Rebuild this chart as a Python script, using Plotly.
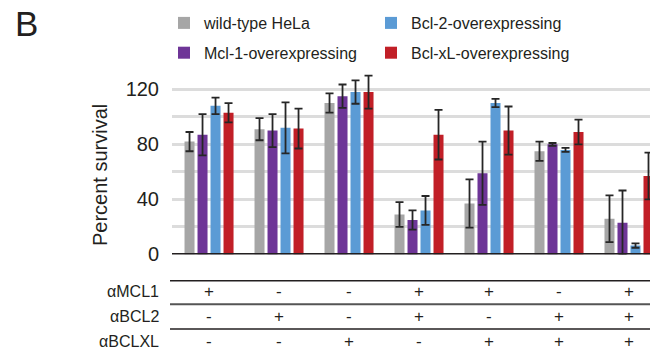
import plotly.graph_objects as go

W, H = 650, 353

conditions = ["MCL1", "BCL2", "BCLXL", "MCL1+BCL2", "MCL1+BCLXL", "BCL2+BCLXL", "ALL"]

series_names = ["wild-type HeLa", "Mcl-1-overexpressing", "Bcl-2-overexpressing", "Bcl-xL-overexpressing"]
series_colors = ["#a6a6a6", "#6e3597", "#5b9bd5", "#c11f27"]

wt = [82, 91, 110, 29, 37, 75, 26]
wt_err = [7, 8, 7, 9, 17.5, 7, 17]
mcl1 = [87, 90, 115, 25, 59, 80, 23]
mcl1_err = [15, 12, 8.5, 7, 23, 1, 23.5]
bcl2 = [108, 92, 118, 32, 110, 76, 6.5]
bcl2_err = [6, 18.5, 8.5, 10.5, 3, 1.5, 1.6]
bclxl = [103, 91.5, 118, 87, 90, 89, 57]
bclxl_err = [7, 14.5, 12, 18, 17.5, 9, 17]

table_labels = ["αMCL1", "αBCL2", "αBCLXL"]
row_mcl1 = ["+", "-", "-", "+", "+", "-", "+"]
row_bcl2 = ["-", "+", "-", "+", "-", "+", "+"]
row_bclxl = ["-", "-", "+", "-", "+", "+", "+"]

y_ticks = [0, 20, 40, 60, 80, 100, 120]
y_ticktext = ["0", "", "40", "", "80", "", "120"]

values = [wt, mcl1, bcl2, bclxl]
errors = [wt_err, mcl1_err, bcl2_err, bclxl_err]
legend_ids = ["legend", "legend", "legend2", "legend2"]

FONT = "Liberation Sans, Arial, sans-serif"
TXT = "#231f20"

def px_x(p):
    return p / W

def px_y(p):
    return 1 - p / H

fig = go.Figure()
for name, color, v, e, lg in zip(series_names, series_colors, values, errors, legend_ids):
    fig.add_trace(go.Bar(
        x=conditions, y=v, name=name, marker_color=color, marker_line_width=0,
        error_y=dict(type="data", array=e, visible=True, color="#262626", thickness=1.8, width=4),
        legend=lg, legendgroup=name,
    ))

axis_left = 172
axis_bottom = 254.5
px_per_unit = 1.3767
y_top_val = 135
plot_top = axis_bottom - y_top_val * px_per_unit

fig.update_layout(
    width=W, height=H,
    margin=dict(l=0, r=0, t=0, b=0, autoexpand=False),
    paper_bgcolor="white", plot_bgcolor="white",
    barmode="group", bargap=0.257, bargroupgap=0.23,
    font=dict(family=FONT, color=TXT),
    xaxis=dict(domain=[px_x(axis_left), 1], range=[-0.529, 6.3], showticklabels=False,
               showgrid=False, zeroline=False, showline=False, ticks="", automargin=False),
    yaxis=dict(domain=[px_y(axis_bottom), px_y(plot_top)], range=[0, y_top_val],
               tickvals=y_ticks, ticktext=y_ticktext, showgrid=True, gridcolor="#dcdcdc",
               gridwidth=3, zeroline=False, showline=False, ticks="outside", ticklen=8,
               tickcolor="rgba(0,0,0,0)", tickfont=dict(size=20, family=FONT, color=TXT),
               automargin=False),
    legend=dict(x=px_x(164), y=px_y(6), xanchor="left", yanchor="top", orientation="v",
                font=dict(size=16, family=FONT, color=TXT), tracegroupgap=6, bgcolor="rgba(0,0,0,0)"),
    legend2=dict(x=px_x(371), y=px_y(6), xanchor="left", yanchor="top", orientation="v",
                 font=dict(size=16, family=FONT, color=TXT), tracegroupgap=6, bgcolor="rgba(0,0,0,0)"),
)

# axis baseline
fig.add_shape(type="line", xref="paper", yref="y", x0=px_x(axis_left), x1=1, y0=0, y1=0,
              line=dict(color="#231f20", width=3))

# table lines
for yl, wl, cl in [(280.7, 1.5, "#231f20"), (304.3, 2, "#555555"), (329, 1.5, "#231f20")]:
    fig.add_shape(type="line", xref="paper", yref="paper", x0=px_x(170), x1=1,
                  y0=px_y(yl), y1=px_y(yl), line=dict(color=cl, width=wl))

row_y = [291.7, 316, 341.7]
for label, row, yy in zip(table_labels, [row_mcl1, row_bcl2, row_bclxl], row_y):
    fig.add_annotation(text=label, xref="paper", yref="paper", x=px_x(161), y=px_y(yy),
                       xanchor="right", yanchor="middle", showarrow=False,
                       font=dict(size=16, family=FONT, color=TXT))
    for c, s in zip(conditions, row):
        fig.add_annotation(text=s, xref="x", yref="paper", x=c, y=px_y(yy),
                           xanchor="center", yanchor="middle", showarrow=False,
                           font=dict(size=17, family=FONT, color=TXT))

# y-axis title
fig.add_annotation(text="Percent survival", xref="paper", yref="paper", x=px_x(100), y=px_y(175),
                   xanchor="center", yanchor="middle", textangle=-90, showarrow=False,
                   font=dict(size=20, family=FONT, color=TXT))

# panel label
fig.add_annotation(text="B", xref="paper", yref="paper", x=px_x(13), y=px_y(23.5),
                   xanchor="left", yanchor="middle", showarrow=False,
                   font=dict(size=35, family=FONT, color=TXT))

fig.write_html("out.html")
